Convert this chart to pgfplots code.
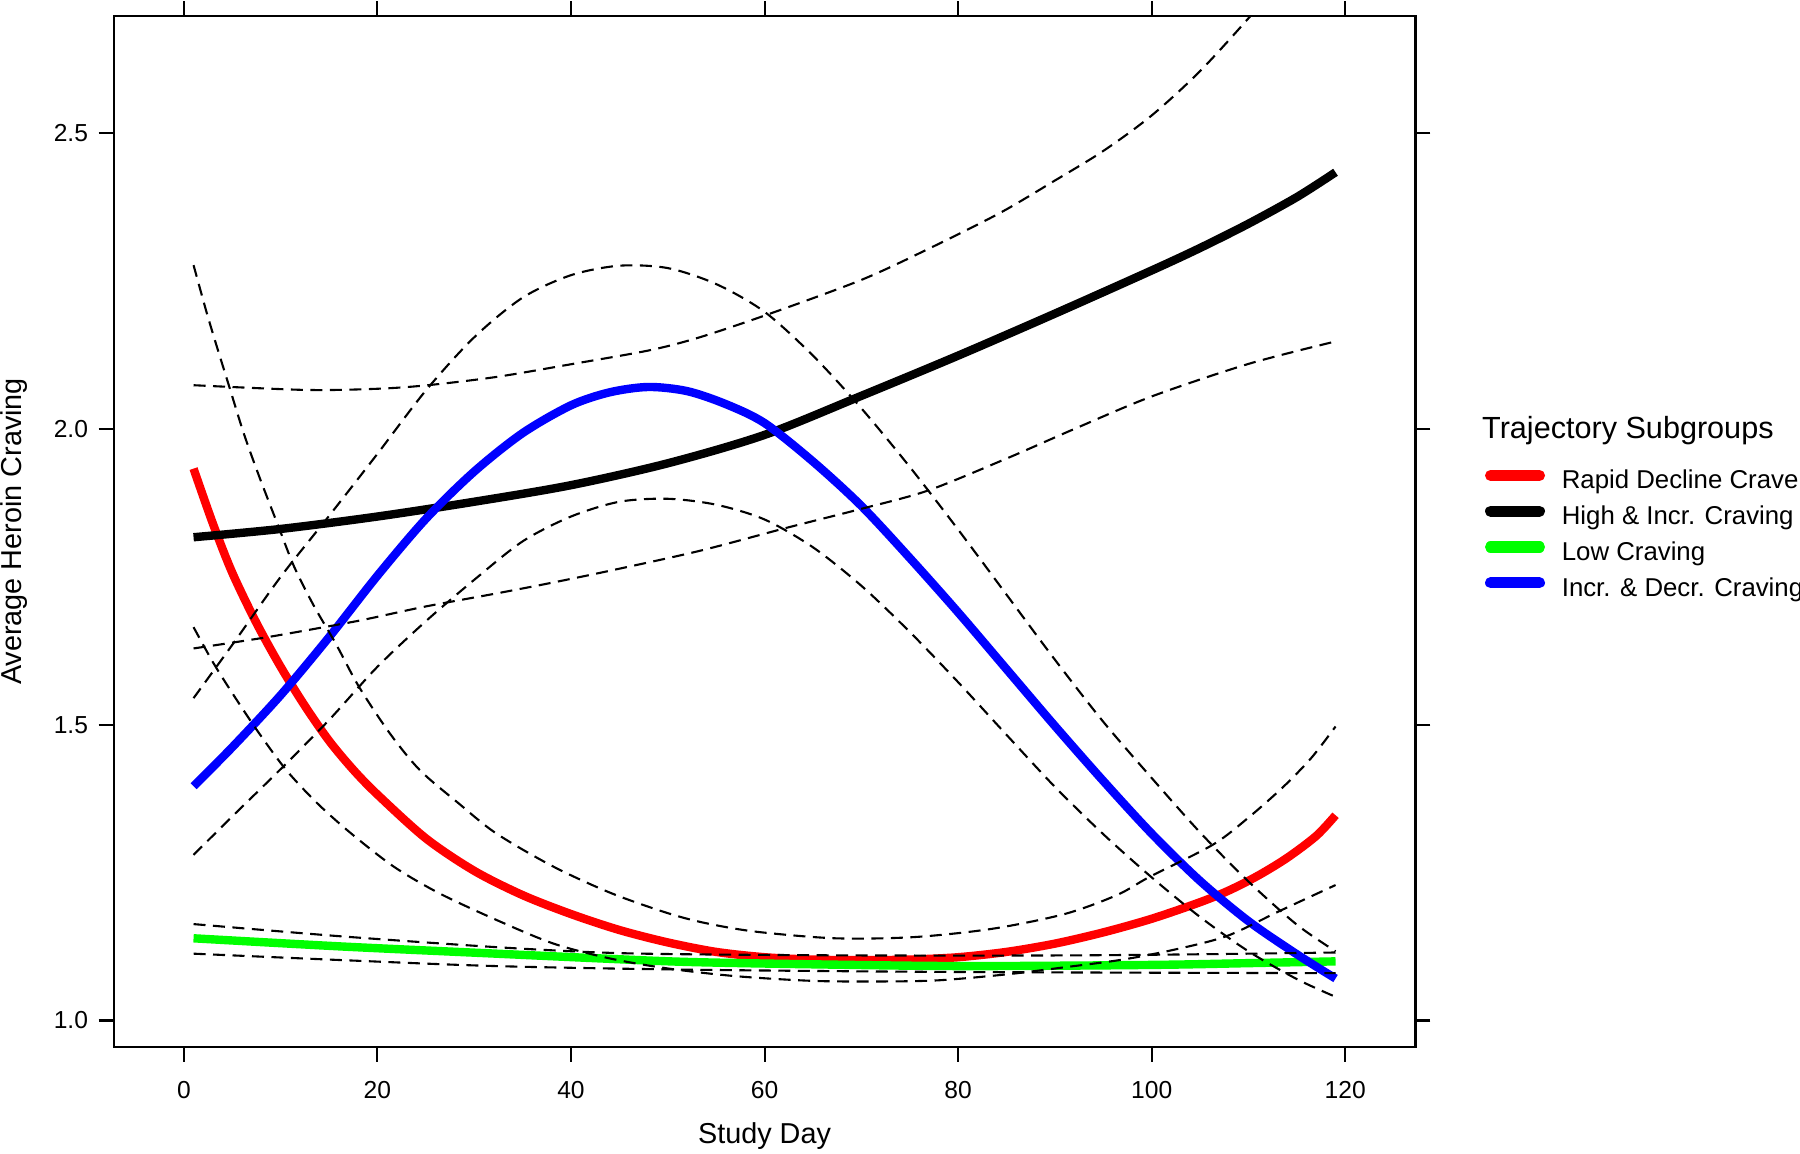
\documentclass[border=0pt]{standalone}
\usepackage{fontspec}
\setmainfont{Liberation Sans}
\usepackage{pgfplots}
\pgfplotsset{compat=1.18}
\definecolor{cRed}{RGB}{255,0,0}
\definecolor{cGreen}{RGB}{0,255,0}
\definecolor{cBlue}{RGB}{0,0,255}
\begin{document}
\begin{tikzpicture}
\fill[white] (-37.87pt,-35.67pt) rectangle (562.13pt,348.97pt);
\begin{axis}[
  at={(0pt,0pt)}, anchor=south west,
  scale only axis, width=433.96pt, height=343.6pt,
  xmin=-7.26, xmax=127.26, ymin=0.9554, ymax=2.698,
  xtick={0,20,...,120}, ytick={1,1.5,2,2.5},
  yticklabels={1.0,1.5,2.0,2.5},
  tick align=outside, major tick length=5pt,
  tick style={line width=0.7pt, black},
  axis line style={line width=0.7pt},
  every tick label/.append style={font=\fontsize{8.2}{9}\selectfont},
  xticklabel style={yshift=-3pt},
  /pgf/number format/assume math mode=true,
  xlabel={Study Day}, ylabel={Average Heroin Craving},
  label style={font=\fontsize{9.6}{11}\selectfont},
  xlabel style={at={(axis description cs:0.5,-0.0867)}, anchor=center},
  ylabel style={at={(axis description cs:-0.0767,0.5)}, anchor=center},
  legend style={at={(1.0534,0.5597)}, anchor=north west, draw=none, fill=none,
    inner sep=0pt, outer sep=0pt, row sep=4.1pt,
    nodes={inner sep=0pt, font=\fontsize{8.6}{10}\selectfont},
    /tikz/every odd column/.append style={column sep=5.6pt}},
  legend cell align=left,
  legend image code/.code={\draw[line width=3.7pt, line cap=round] (1.85pt,2.1pt) -- (18.15pt,2.1pt);},
  every axis plot/.append style={smooth},
]
% thick trajectories
\addplot[cRed, line width=2.8pt] coordinates {
(1,1.933) (3,1.84) (5,1.757) (7.5,1.672) (10,1.598) (12.5,1.532) (15,1.473)
(17.5,1.424) (20,1.382) (25,1.308) (30,1.253) (35,1.212) (40,1.18) (45,1.153)
(50,1.132) (55,1.116) (60,1.107) (65,1.103) (70,1.102) (75,1.103) (80,1.107)
(85,1.116) (90,1.13) (95,1.149) (100,1.172) (105,1.2) (108,1.22) (111,1.245)
(114,1.275) (117,1.312) (119,1.347)};
\addlegendentry{Rapid Decline Crave}
\addplot[black, line width=2.8pt] coordinates {
(1,1.817) (10,1.831) (20,1.852) (30,1.877) (40,1.905) (50,1.942) (60,1.99)
(70,2.056) (80,2.124) (90,2.195) (100,2.268) (105,2.306) (110,2.347) (115,2.392) (119,2.434)};
\addlegendentry{High \& Incr. Craving}
\addplot[cGreen, line width=2.8pt] coordinates {
(1,1.139) (16.5,1.125) (32.3,1.113) (43,1.105) (52.1,1.099) (65,1.095) (80.8,1.092)
(100,1.094) (110,1.097) (119,1.1)};
\addlegendentry{Low Craving}
\addplot[cBlue, line width=2.8pt] coordinates {
(1,1.396) (5,1.462) (10,1.55) (15,1.648) (20,1.752) (25,1.848) (30,1.928)
(35,1.993) (40,2.04) (44,2.062) (48,2.071) (52,2.064) (56,2.042) (60,2.01)
(65,1.945) (70,1.87) (75,1.782) (80,1.69) (85,1.594) (90,1.498) (95,1.405)
(100,1.316) (105,1.236) (110,1.168) (115,1.112) (119,1.071)};
\addlegendentry{Incr. \& Decr. Craving}
% confidence bands
\addplot[black, line width=0.7pt, dash pattern=on 4pt off 2.5pt, forget plot] coordinates {
(1,2.277) (2.3,2.20) (3.3,2.145) (4.7,2.071) (6.2,1.992) (7.8,1.919) (9.8,1.834)
(11.4,1.767) (13.4,1.702) (15.7,1.637) (18.1,1.564) (21.3,1.485) (24.4,1.423)
(28.4,1.367) (32.3,1.316) (38.2,1.26) (44.2,1.215) (50.1,1.181) (54.1,1.164)
(59.2,1.15) (67.3,1.139) (75.4,1.141) (83.5,1.155) (91,1.18) (96.4,1.212)
(99.8,1.243) (106.3,1.297) (110,1.343) (113.6,1.395) (116.5,1.444) (119,1.497)};
\addplot[black, line width=0.7pt, dash pattern=on 4pt off 2.5pt, forget plot] coordinates {
(1,1.665) (3.1,1.603) (5.5,1.541) (7.8,1.485) (10.6,1.423) (13.8,1.367) (17.3,1.316)
(21.7,1.26) (26.4,1.215) (32.3,1.17) (38.2,1.13) (44,1.105) (50,1.088) (57,1.075)
(65,1.067) (72,1.066) (78,1.068) (85,1.078) (91,1.09) (97,1.103) (102.4,1.12)
(107.8,1.143) (113.2,1.185) (119,1.229)};
\addplot[black, line width=0.7pt, dash pattern=on 4pt off 2.5pt, forget plot] coordinates {
(1,2.074) (12.6,2.066) (20,2.068) (25.2,2.074) (32.3,2.088) (40.2,2.11) (48.1,2.133)
(53.3,2.155) (60.4,2.194) (70,2.252) (77,2.305) (84.3,2.365) (90,2.42) (95,2.47)
(100,2.53) (105,2.605) (110.2,2.698) (115,2.79) (119,2.87)};
\addplot[black, line width=0.7pt, dash pattern=on 4pt off 2.5pt, forget plot] coordinates {
(1,1.629) (8.6,1.648) (16.5,1.671) (19.3,1.68) (25,1.70) (32.3,1.722) (38,1.74)
(44.2,1.761) (53.3,1.794) (62.3,1.833) (70,1.865) (76.9,1.896) (85,1.95) (92,2.0)
(100,2.055) (110,2.11) (119,2.148)};
\addplot[black, line width=0.7pt, dash pattern=on 4pt off 2.5pt, forget plot] coordinates {
(1,1.545) (5,1.635) (10,1.75) (15,1.853) (20,1.958) (25,2.065) (30,2.155) (35,2.222)
(40,2.26) (45,2.276) (50,2.272) (55,2.245) (60,2.198) (65,2.124) (70,2.035)
(75,1.936) (80,1.83) (85,1.72) (90,1.61) (95,1.505) (100,1.41) (105,1.318)
(110,1.235) (115,1.162) (119,1.117)};
\addplot[black, line width=0.7pt, dash pattern=on 4pt off 2.5pt, forget plot] coordinates {
(1,1.28) (5,1.345) (10,1.425) (15,1.508) (20,1.598) (25,1.675) (30,1.745) (35,1.81)
(40,1.852) (45,1.877) (50,1.882) (55,1.872) (60,1.847) (65,1.8) (70,1.735)
(75,1.657) (80,1.572) (85,1.483) (90,1.395) (95,1.315) (100,1.242) (105,1.175)
(110,1.117) (115,1.07) (119,1.04)};
\addplot[black, line width=0.7pt, dash pattern=on 4pt off 2.5pt, forget plot] coordinates {
(1,1.163) (16.5,1.142) (32.3,1.124) (43,1.115) (52,1.112) (70,1.11) (90,1.11)
(105,1.112) (119,1.115)};
\addplot[black, line width=0.7pt, dash pattern=on 4pt off 2.5pt, forget plot] coordinates {
(1,1.113) (16.5,1.102) (32.3,1.092) (52,1.086) (80,1.082) (119,1.08)};
\end{axis}
\node[anchor=base west, inner sep=0pt, font=\fontsize{10.2}{12}\selectfont] at (456.0pt,202.9pt) {Trajectory Subgroups};
\pgfresetboundingbox
\useasboundingbox (-37.87pt,-35.67pt) rectangle (562.13pt,348.97pt);
\end{tikzpicture}
\end{document}
